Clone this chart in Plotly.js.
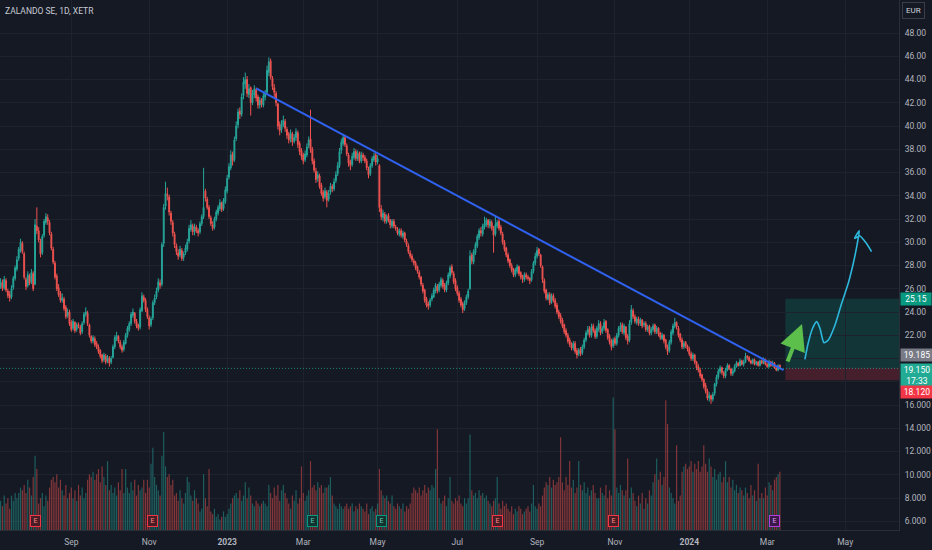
<!DOCTYPE html>
<html><head><meta charset="utf-8">
<script src="https://cdn.plot.ly/plotly-3.0.1.min.js"></script>
<style>html,body{margin:0;padding:0;background:#151924;}#chart{width:932px;height:550px;}</style>
</head><body><div id="chart"></div>
<script>
const lastDate = '2024-03-12';
const holidays = ['2022-12-26','2023-04-07','2023-04-10','2023-05-01','2023-12-25','2023-12-26','2024-01-01'];

const open = [
26.2,26.5,26.1,26.7,25.8,25.5,25.3,26.1,26.9,27.7,
28.6,29.3,29.9,29.0,26.8,26.3,27.1,26.6,27.3,26.4,
31.4,31.0,30.1,29.1,30.6,31.7,32.1,31.7,30.7,29.4,
28.2,27.1,26.1,25.6,25.0,25.1,24.4,23.7,24.0,23.1,
22.6,23.1,22.5,22.9,22.7,22.3,23.1,23.8,23.9,22.9,
21.9,21.5,21.7,21.3,21.0,20.7,20.3,19.9,20.2,19.8,
20.0,19.7,20.1,21.0,21.7,21.9,21.4,21.0,20.8,21.3,
22.0,22.5,23.0,23.7,23.9,23.2,22.9,22.7,24.1,25.3,
25.0,24.2,23.5,22.9,23.5,24.8,25.3,25.9,26.5,26.4,
29.9,33.1,34.1,33.9,32.5,31.7,30.7,29.7,29.1,28.9,
29.3,28.7,29.1,29.4,30.1,31.1,31.4,30.9,31.3,31.0,
30.9,31.6,32.2,34.4,33.7,33.0,32.1,31.5,31.3,32.0,
32.5,32.9,33.4,32.9,33.5,34.4,35.6,36.4,37.6,37.1,
38.9,40.1,41.3,41.0,42.6,43.6,44.0,42.7,43.3,42.0,
42.7,43.1,42.5,41.8,42.3,41.8,42.5,42.9,44.6,45.6,
44.1,43.3,42.8,41.9,40.1,39.7,40.1,40.4,39.7,39.3,
38.9,39.3,38.7,39.0,39.4,38.5,37.9,37.5,37.1,37.5,
38.3,38.9,38.0,37.0,36.1,35.5,35.7,34.9,34.3,33.9,
34.3,33.7,34.3,34.8,34.6,35.3,35.9,36.6,37.9,38.5,
39.0,38.3,37.5,36.9,36.7,37.3,37.8,37.2,37.7,37.0,
37.5,37.3,37.0,36.3,35.9,36.6,37.1,37.5,36.9,36.6,
32.9,32.1,32.4,31.8,32.3,31.9,31.4,31.8,31.3,31.1,
30.7,31.0,30.5,30.8,30.1,29.7,29.1,28.8,28.4,28.2,
27.9,27.4,27.0,26.3,25.9,25.1,24.7,24.6,25.1,25.3,
25.8,26.2,25.9,26.3,26.7,26.3,25.9,26.5,27.1,27.9,
27.3,26.7,26.1,25.6,25.1,24.7,24.3,24.8,25.3,26.0,
28.9,28.3,29.1,29.7,30.4,31.0,30.7,31.3,31.5,31.9,
31.4,31.7,31.2,30.7,31.4,31.8,31.3,30.7,30.0,29.5,
28.9,28.5,28.0,27.7,27.2,27.5,27.9,27.4,27.1,26.8,
27.2,27.0,26.9,26.8,27.5,28.2,28.8,29.4,28.9,27.9,
26.7,25.9,25.1,25.5,24.9,25.4,25.0,24.6,24.0,23.7,
23.3,22.9,22.4,22.0,21.6,21.2,20.9,21.3,20.7,20.4,
20.8,20.5,21.0,21.6,22.2,22.6,22.0,22.8,22.4,21.9,
22.5,23.0,22.3,22.6,23.2,22.5,21.9,21.5,21.1,21.7,
21.3,22.0,22.5,22.9,22.2,22.7,21.9,21.6,23.1,24.1,
23.6,23.1,23.4,23.0,23.3,22.9,23.0,22.5,22.8,22.2,
22.5,22.9,22.3,22.6,22.2,21.7,22.0,21.6,21.0,20.7,
21.4,22.2,22.8,23.1,22.6,22.1,21.6,21.0,21.4,21.1,
20.8,20.4,20.0,20.3,19.7,19.3,19.0,18.6,18.2,17.7,
17.2,16.6,16.8,16.5,17.0,17.8,18.4,18.9,19.2,18.8,
18.5,19.0,19.4,19.1,18.7,18.9,19.3,19.6,19.4,19.8,
19.5,19.7,20.2,20.1,19.8,19.6,19.9,19.5,19.7,19.4,
19.8,19.6,19.9,19.5,19.3,19.7,19.4,19.6,19.2,19.0,
19.4];

const high = [
26.9,26.8,27.1,26.9,26.0,25.8,26.3,27.1,28.0,28.8,
29.6,30.3,30.1,29.2,27.0,27.5,27.3,27.7,27.5,32.0,
33.0,31.3,30.3,30.7,32.0,32.5,32.4,31.9,30.9,29.6,
28.4,27.3,26.4,25.8,25.6,25.3,24.6,24.3,24.2,23.3,
23.4,23.2,23.1,23.1,22.9,23.2,24.0,24.4,24.1,23.0,
22.0,22.0,21.9,21.5,21.2,20.8,20.4,20.5,20.4,20.3,
20.2,20.2,21.2,22.0,22.3,22.0,21.6,21.2,21.6,22.2,
22.8,23.2,24.0,24.3,24.0,23.4,23.0,24.4,25.7,25.5,
25.2,24.4,23.7,23.6,25.0,25.5,26.1,26.9,26.8,30.0,
33.3,35.2,34.7,34.1,32.7,31.9,30.9,29.9,29.4,29.7,
29.5,29.2,29.8,30.3,31.5,31.9,31.6,31.6,31.5,31.2,
31.8,32.4,36.4,34.6,33.9,33.2,32.3,31.8,32.2,32.8,
33.2,33.7,33.5,33.8,34.8,35.8,36.8,37.9,37.8,39.1,
40.4,41.5,41.6,42.8,44.2,44.6,44.3,43.6,43.4,43.1,
43.5,43.3,42.7,42.5,42.4,42.9,43.1,45.2,45.9,45.8,
44.3,43.6,43.0,42.0,40.4,40.5,40.9,40.6,39.9,39.5,
39.7,39.5,39.3,39.8,39.6,38.7,38.1,37.7,37.9,38.5,
39.1,41.4,38.2,37.2,36.4,36.1,35.9,35.1,34.5,34.7,
34.5,34.5,35.1,35.0,35.5,36.1,36.9,38.1,38.9,39.3,
39.2,38.5,37.7,37.1,37.7,38.1,38.0,37.9,37.8,37.8,
37.7,37.5,37.2,36.5,36.8,37.4,37.7,37.7,37.5,36.7,
33.2,32.8,32.6,32.4,32.5,32.0,32.0,32.0,31.5,31.3,
31.2,31.2,31.0,30.9,30.3,29.9,29.3,29.0,28.6,28.4,
28.0,27.6,27.1,26.5,26.0,25.3,24.9,25.2,25.6,26.1,
26.5,26.4,26.6,27.0,26.9,26.5,26.7,27.4,28.0,28.1,
27.5,26.9,26.3,25.8,25.3,24.9,25.0,25.5,26.0,29.3,
29.1,29.4,30.0,30.7,31.2,31.3,31.6,32.2,32.1,32.0,
32.0,31.9,31.4,32.2,31.9,32.0,31.5,30.9,30.2,29.6,
29.1,28.6,28.2,27.8,27.8,28.1,28.0,27.5,27.2,27.4,
27.4,27.2,27.0,27.7,28.4,29.1,29.6,29.5,29.0,28.0,
26.9,26.0,25.7,25.7,25.6,25.6,25.2,24.8,24.2,23.9,
23.5,23.0,22.6,22.2,21.8,21.4,21.5,21.5,20.9,20.9,
21.0,21.2,21.8,22.4,22.8,22.8,23.0,23.0,22.6,22.8,
23.3,23.2,22.8,23.4,23.3,22.6,22.1,21.7,21.8,21.9,
22.2,22.8,23.1,23.1,23.0,22.8,22.1,23.3,24.6,24.3,
23.8,23.6,23.6,23.5,23.4,23.2,23.2,22.9,22.9,22.7,
23.0,23.0,22.8,22.7,22.3,22.2,22.1,21.7,21.2,21.6,
22.5,23.0,23.5,23.2,22.8,22.2,21.8,21.5,21.5,21.2,
21.0,20.6,20.5,20.4,19.8,19.5,19.2,18.7,18.3,17.9,
17.4,17.1,16.9,17.1,17.9,18.6,19.1,19.4,19.3,18.9,
19.2,19.6,19.5,19.2,19.1,19.5,19.8,19.7,20.0,19.9,
19.9,20.5,20.3,20.2,19.9,20.0,20.0,19.8,19.8,19.9,
19.9,20.1,20.0,19.6,19.9,19.8,19.8,19.7,19.3,19.5,
19.5];

const low = [
26.0,25.8,25.9,25.7,25.2,24.9,25.1,25.9,26.7,27.5,
28.4,29.1,29.0,26.8,25.9,26.1,26.3,26.4,25.8,26.3,
30.7,30.0,28.7,28.9,30.4,31.5,31.5,30.6,29.3,28.1,
26.8,25.8,25.3,24.8,24.8,24.1,23.4,23.5,22.8,22.3,
22.4,22.2,22.3,22.6,22.0,22.1,22.9,23.6,22.8,21.8,
21.3,21.3,21.0,20.8,20.4,20.0,19.6,19.7,19.5,19.6,
19.3,19.5,20.0,20.8,21.5,21.3,20.8,20.5,20.6,21.2,
21.8,22.3,22.8,23.5,23.0,22.6,22.4,22.5,24.0,24.8,
24.0,23.4,22.5,22.7,23.3,24.6,25.1,25.7,26.0,26.2,
29.6,32.8,33.6,32.3,31.5,30.5,29.5,28.9,28.5,28.7,
28.4,28.4,28.9,29.2,29.9,30.9,30.6,30.6,30.8,30.5,
30.7,31.4,32.0,33.5,32.8,32.0,31.4,31.0,31.1,31.8,
32.3,32.7,32.6,32.7,33.3,34.2,35.4,36.2,36.6,36.9,
38.7,39.8,40.6,40.8,42.3,43.2,42.5,42.4,40.9,41.8,
42.4,42.1,41.5,41.5,41.6,41.6,42.2,42.7,44.3,44.0,
43.1,42.5,41.7,39.7,39.2,39.4,39.9,39.5,38.9,38.5,
38.6,38.3,38.5,38.7,38.1,37.5,37.1,36.7,36.9,37.3,
38.1,37.7,36.7,36.0,35.1,35.2,34.6,34.0,33.5,33.7,
33.0,33.5,34.1,34.3,34.4,35.1,35.7,36.4,37.6,38.3,
38.2,37.4,36.5,36.2,36.5,37.1,37.0,37.0,36.8,36.8,
37.0,36.8,36.2,35.5,35.7,36.4,36.9,36.6,36.7,32.6,
31.9,31.8,31.6,31.6,31.7,31.2,31.2,31.2,31.0,30.6,
30.5,30.4,30.3,30.0,29.6,29.0,28.6,28.3,28.0,27.6,
27.3,26.8,26.2,25.6,24.8,24.4,24.2,24.4,24.9,25.2,
25.6,25.6,25.7,26.1,26.0,25.7,25.7,26.3,26.9,27.2,
26.4,25.8,25.4,24.8,24.4,23.9,24.1,24.6,25.1,25.9,
28.1,28.1,28.9,29.5,30.2,30.5,30.5,31.1,31.3,31.2,
31.2,31.0,29.1,30.5,31.2,31.0,30.6,29.8,29.2,28.7,
28.2,27.8,27.4,27.0,27.0,27.3,27.1,26.8,26.5,26.6,
26.8,26.7,26.4,26.6,27.3,28.0,28.6,28.8,27.8,26.5,
25.6,25.0,25.0,24.6,24.7,24.8,24.3,23.8,23.4,23.0,
22.6,22.1,21.8,21.3,21.0,20.7,20.7,20.4,20.0,20.2,
20.2,20.3,20.8,21.4,22.0,21.8,21.8,22.2,21.7,21.7,
22.3,22.0,22.1,22.4,22.2,21.6,21.2,20.7,20.9,21.1,
21.1,21.8,22.3,22.1,22.0,21.6,21.2,21.4,22.9,23.4,
23.0,22.9,22.8,22.8,22.6,22.7,22.3,22.3,22.0,22.0,
22.3,22.1,22.1,21.9,21.6,21.6,21.3,20.8,20.3,20.5,
21.2,22.0,22.6,22.5,21.8,21.4,20.8,20.8,20.9,20.6,
20.2,19.8,19.8,19.5,19.0,18.8,18.3,18.0,17.4,17.0,
16.4,16.3,16.1,16.3,16.8,17.6,18.2,18.7,18.6,18.3,
18.3,18.9,19.0,18.5,18.5,18.8,19.2,19.3,19.3,19.4,
19.3,19.6,19.9,19.7,19.5,19.5,19.4,19.4,19.3,19.3,
19.5,19.5,19.4,19.2,19.2,19.3,19.3,19.1,18.9,18.9,
19.05];

const close = [
26.6,26.0,26.8,25.9,25.4,25.2,26.0,26.9,27.8,28.5,
29.4,30.0,29.2,27.0,26.2,27.2,26.5,27.4,26.0,31.5,
31.0,30.2,29.0,30.5,31.8,32.2,31.8,30.8,29.5,28.3,
27.0,26.0,25.5,25.0,25.2,24.3,23.6,24.0,23.0,22.5,
23.2,22.4,22.9,22.8,22.2,23.0,23.8,24.0,23.0,22.0,
21.5,21.8,21.2,21.0,20.6,20.2,19.8,20.3,19.7,20.1,
19.6,20.0,21.0,21.8,22.0,21.5,21.0,20.7,21.4,22.0,
22.6,23.0,23.8,24.0,23.2,22.8,22.6,24.2,25.4,25.0,
24.2,23.6,22.8,23.4,24.8,25.2,25.8,26.6,26.3,29.8,
33.0,34.2,34.0,32.6,31.8,30.8,29.8,29.2,28.8,29.4,
28.6,29.0,29.5,30.0,31.2,31.5,30.9,31.3,31.0,30.8,
31.6,32.2,33.0,33.8,33.0,32.2,31.6,31.2,32.0,32.6,
33.0,33.4,32.8,33.6,34.5,35.5,36.5,37.5,37.0,38.8,
40.0,41.2,41.0,42.5,43.8,44.0,42.8,43.2,42.0,42.8,
43.2,42.4,41.8,42.2,41.9,42.6,42.8,44.8,45.5,44.2,
43.4,42.9,42.0,40.0,39.6,40.2,40.5,39.8,39.2,38.8,
39.4,38.6,39.0,39.5,38.4,37.8,37.4,37.0,37.6,38.2,
38.8,38.0,37.0,36.2,35.4,35.8,34.8,34.2,33.8,34.4,
33.6,34.2,34.8,34.6,35.2,35.8,36.6,37.8,38.6,39.0,
38.4,37.6,36.8,36.6,37.4,37.8,37.2,37.6,37.0,37.5,
37.3,37.0,36.4,35.8,36.6,37.2,37.4,36.9,37.2,33.0,
32.2,32.5,31.8,32.2,31.9,31.5,31.8,31.4,31.2,30.8,
31.0,30.6,30.8,30.2,29.8,29.2,28.8,28.5,28.2,27.8,
27.5,27.0,26.4,25.8,25.0,24.6,24.5,25.0,25.4,25.9,
26.3,25.8,26.4,26.8,26.2,25.9,26.5,27.2,27.8,27.4,
26.6,26.0,25.6,25.0,24.6,24.2,24.8,25.3,25.8,28.8,
28.4,29.2,29.8,30.5,31.0,30.8,31.4,31.6,31.9,31.5,
31.8,31.2,30.6,31.5,31.7,31.2,30.8,30.0,29.4,28.9,
28.4,28.0,27.6,27.2,27.6,27.9,27.3,27.0,26.8,27.2,
27.0,26.9,26.7,27.5,28.2,28.8,29.3,29.0,28.0,26.8,
25.8,25.2,25.5,24.8,25.4,25.0,24.5,24.0,23.6,23.2,
22.8,22.3,22.0,21.5,21.2,20.9,21.3,20.6,20.3,20.7,
20.4,21.0,21.6,22.2,22.5,22.0,22.7,22.4,21.9,22.6,
23.0,22.2,22.6,23.1,22.4,21.8,21.4,21.0,21.6,21.3,
22.0,22.6,22.8,22.3,22.8,21.8,21.5,23.0,24.2,23.6,
23.2,23.4,23.0,23.3,22.8,23.0,22.5,22.7,22.2,22.5,
22.8,22.3,22.6,22.1,21.8,22.0,21.5,21.0,20.6,21.4,
22.3,22.8,23.1,22.7,22.0,21.6,21.0,21.3,21.1,20.8,
20.4,20.0,20.3,19.7,19.2,19.0,18.5,18.2,17.6,17.2,
16.6,16.8,16.5,16.9,17.8,18.4,18.9,19.2,18.8,18.5,
19.0,19.4,19.1,18.7,18.9,19.3,19.6,19.4,19.8,19.5,
19.7,20.2,20.1,19.8,19.6,19.9,19.5,19.7,19.4,19.8,
19.6,19.9,19.5,19.3,19.7,19.4,19.6,19.2,19.0,19.4,
19.15];

// volume, millions of shares
const volume = [
1.1,0.9,1.3,1.0,1.2,0.8,1.3,1.1,1.4,1.2,
1.4,1.6,1.5,1.7,1.4,1.9,1.6,1.3,2.0,2.8,
2.3,1.0,1.2,1.4,0.9,1.3,1.1,1.6,1.9,2.0,
1.8,2.1,1.6,1.9,1.5,1.3,1.7,1.2,1.4,1.6,
1.2,1.5,1.1,1.7,1.3,1.6,1.2,1.4,1.9,2.1,
2.0,2.2,1.9,2.1,2.3,1.8,2.4,2.0,1.7,2.6,
1.5,1.7,1.4,1.6,1.3,1.8,1.5,2.3,1.4,2.3,
1.6,1.4,1.8,1.5,1.9,1.3,1.7,1.5,1.6,1.9,
1.4,1.9,1.6,2.5,3.1,2.0,1.7,1.5,1.3,2.8,
3.7,2.4,2.0,2.1,1.7,1.9,1.3,1.4,1.1,1.5,
1.2,1.0,1.4,2.0,1.8,1.3,1.1,1.5,1.2,1.0,
0.7,0.8,2.1,1.2,0.9,2.3,0.7,0.6,0.8,0.5,
0.6,0.4,0.5,0.7,0.5,0.6,0.8,1.0,1.2,1.3,
1.4,1.2,1.5,1.1,1.3,1.8,1.2,1.6,1.3,1.0,
0.9,1.1,1.0,0.9,1.0,1.1,1.0,0.9,1.7,1.4,
1.2,1.6,1.3,1.7,1.1,1.5,1.7,1.4,1.2,1.0,
0.8,1.3,1.1,1.5,1.0,1.2,2.4,1.4,1.1,1.3,
1.5,2.6,1.6,1.7,1.5,1.8,1.6,1.7,1.4,1.6,
1.6,1.7,2.0,1.3,1.0,0.9,0.8,1.0,0.9,0.8,
0.9,1.0,0.8,0.9,1.0,0.7,0.9,0.8,1.0,0.9,
0.8,0.7,1.0,0.6,0.8,0.9,0.7,0.8,1.0,2.3,
1.5,1.3,1.2,1.3,1.1,1.0,1.3,0.9,0.8,1.0,
0.9,0.8,1.0,0.7,0.9,0.8,1.0,1.4,1.6,1.5,
1.4,1.6,1.3,1.5,1.7,1.4,1.6,1.5,1.7,1.6,
2.3,3.8,1.2,1.0,1.1,1.3,0.9,1.2,2.0,1.1,
1.0,1.2,1.1,1.3,1.0,0.9,1.2,1.0,1.2,3.6,
1.5,1.3,1.4,1.2,1.5,1.3,1.4,1.2,1.3,1.1,
1.0,0.9,1.1,1.2,2.0,1.0,0.8,1.1,0.9,1.0,
0.8,0.7,0.9,0.6,0.8,0.7,0.9,0.8,0.6,0.7,
0.8,0.9,0.7,1.0,1.7,0.9,0.8,1.0,0.9,1.3,
1.6,1.8,1.7,2.0,1.6,1.9,1.7,1.8,2.0,3.5,
1.8,1.5,2.0,1.7,2.6,1.6,1.9,1.4,1.6,2.6,
1.7,1.5,1.8,1.4,1.6,1.3,1.5,1.7,1.4,1.2,
1.2,1.6,1.4,1.3,1.7,1.2,1.5,1.3,5.0,3.8,
1.6,1.4,1.7,1.5,1.3,1.5,2.7,1.2,1.6,1.4,
1.1,0.9,1.3,1.0,1.4,0.8,1.2,1.0,1.5,1.3,
1.8,2.1,2.7,1.9,2.2,1.7,2.0,4.9,4.0,1.6,
1.4,1.2,1.0,3.2,1.1,1.3,2.2,2.4,2.5,2.3,
2.4,2.6,2.2,2.5,2.3,2.6,2.2,2.4,3.2,2.5,
2.2,2.7,2.4,2.0,2.3,1.9,2.1,2.2,1.8,2.0,
2.6,1.8,2.0,1.6,1.9,1.5,1.7,1.4,1.6,1.5,
1.3,1.6,1.4,1.2,1.7,1.3,1.5,1.1,2.5,1.2,
1.4,1.2,1.6,1.3,1.8,1.7,1.5,1.9,2.0,2.1,
2.2];

const xTickVals = ['2022-09-01','2022-11-01','2023-01-02','2023-03-01','2023-05-02','2023-07-03','2023-09-01','2023-11-01','2024-01-02','2024-03-01','2024-05-01'];
const xTickText = ['Sep','Nov','<b>2023</b>','Mar','May','Jul','Sep','Nov','<b>2024</b>','Mar','May'];
const yTickVals = [6,8,10,12,14,16,18,20,22,24,26,28,30,32,34,36,38,40,42,44,46,48];
const yTicksHidden = [18,20]; // covered by the price labels in the reference

const trendDates = ['2023-01-24','2024-03-14'];
const trendPrices = [43.24, 19.0];

const sketchDates = ['2024-03-29 19:00','2024-04-02 14:00','2024-04-05 01:00','2024-04-09 07:00','2024-04-11 02:00','2024-04-15 07:00','2024-04-17 17:00','2024-04-23 10:00','2024-04-29 02:00','2024-05-02 17:00','2024-05-07 12:00','2024-05-09 17:00','2024-05-10 19:00','2024-05-08 05:00','2024-05-13 02:00','2024-05-16 12:00','2024-05-21 14:00'];
const sketchPrices = [19.93,21.31,22.60,23.17,22.60,21.36,21.59,22.88,24.75,26.47,28.19,29.91,30.99,30.34,30.54,29.96,29.19];

const earnDates = ['2022-08-04','2022-11-03','2023-03-08','2023-05-04','2023-08-02','2023-10-31','2024-03-07'];
const earnKind = ['miss','miss','beat','beat','miss','miss','next'];

const position = {start:'2024-03-15', entry:19.185, target:25.15, stop:18.12};
const lastPrice = 19.15;
const arrowFrom = {date:'2024-03-15 22:00', price:19.61};
const arrowTo = {date:'2024-03-28 05:00', price:22.97};

// trading-day dates, counted backwards from last session
const dates = new Array(close.length);
(function(){
  let d = new Date(lastDate + 'T00:00:00Z');
  let i = close.length - 1;
  while (i >= 0) {
    const s = d.toISOString().slice(0,10);
    const wd = d.getUTCDay();
    if (wd !== 0 && wd !== 6 && holidays.indexOf(s) < 0) { dates[i] = s; i--; }
    d.setUTCDate(d.getUTCDate() - 1);
  }
})();

const UP = '#26a69a', DOWN = '#ef5350';
const volColors = close.map((c,i) => c >= open[i] ? 'rgba(38,166,154,0.5)' : 'rgba(239,83,80,0.5)');

const traces = [
  {type:'bar', x:dates, y:volume, yaxis:'y', marker:{color:volColors, line:{width:0}}, hoverinfo:'skip'},
  {type:'candlestick', x:dates, open:open, high:high, low:low, close:close, yaxis:'y2',
   increasing:{line:{color:UP, width:1}, fillcolor:UP},
   decreasing:{line:{color:DOWN, width:1}, fillcolor:DOWN},
   whiskerwidth:0, hoverinfo:'skip'},
  {type:'scatter', mode:'lines', x:trendDates, y:trendPrices, yaxis:'y2', line:{color:'#2f62f0', width:2}, hoverinfo:'skip'},
  {type:'scatter', mode:'lines', x:sketchDates, y:sketchPrices, yaxis:'y2', line:{color:'#2db7dc', width:1.6, shape:'spline', smoothing:0.6}, hoverinfo:'skip'}
];

const FONT = 'Roboto, "Liberation Sans", sans-serif';
const annotations = [
  {xref:'paper', yref:'paper', x:0, y:1, xanchor:'left', yanchor:'top', xshift:3, yshift:-4, showarrow:false,
   text:'ZALANDO SE, 1D, XETR', font:{family:FONT, size:8.5, color:'#c8cbd3'}},
  {xref:'paper', yref:'paper', x:1, y:1, xanchor:'left', yanchor:'top', xshift:3, yshift:-2, showarrow:false,
   text:'EUR', font:{family:FONT, size:8, color:'#d1d4dc'}, bordercolor:'#3a3e4a', borderwidth:1, borderpad:3},
  {xref:'paper', yref:'y2', x:1, y:position.target, xanchor:'left', xshift:1, showarrow:false, width:28,
   text:position.target.toFixed(2), bgcolor:'#089981', font:{family:FONT, size:8.5, color:'#ffffff'}, borderpad:1},
  {xref:'paper', yref:'y2', x:1, y:position.entry, xanchor:'left', yanchor:'bottom', yshift:6, xshift:1, showarrow:false, width:30,
   text:position.entry.toFixed(3), bgcolor:'#787b86', font:{family:FONT, size:8.5, color:'#ffffff'}, borderpad:1},
  {xref:'paper', yref:'y2', x:1, y:lastPrice, xanchor:'left', yanchor:'top', yshift:5, xshift:1, showarrow:false, width:30,
   text:lastPrice.toFixed(3) + '<br>17:33', bgcolor:'#22ab94', font:{family:FONT, size:8.5, color:'#ffffff'}, borderpad:1},
  {xref:'paper', yref:'y2', x:1, y:position.stop, xanchor:'left', yanchor:'top', yshift:-5, xshift:1, showarrow:false, width:30,
   text:position.stop.toFixed(3), bgcolor:'#f23645', font:{family:FONT, size:8.5, color:'#ffffff'}, borderpad:1},
  {xref:'x', yref:'y2', x:arrowTo.date, y:arrowTo.price, axref:'x', ayref:'y2', ax:arrowFrom.date, ay:arrowFrom.price,
   showarrow:true, arrowhead:2, arrowsize:1.3, arrowwidth:4, arrowcolor:'#5cbf4c', text:''}
];
const earnStyle = {
  miss:{border:'#f23645', bg:'#4a1c25', text:'#ff8a8a'},
  beat:{border:'#089981', bg:'#12332f', text:'#5fd1bb'},
  next:{border:'#b33ee0', bg:'#3a1848', text:'#e39cff'}
};
earnDates.forEach((d,i) => {
  const s = earnStyle[earnKind[i]];
  annotations.push({xref:'x', yref:'paper', x:d, y:0, yanchor:'bottom', yshift:3, showarrow:false,
    text:'E', font:{family:FONT, size:7, color:s.text}, bgcolor:s.bg, bordercolor:s.border, borderwidth:1, borderpad:1, width:7});
});

const shapes = [
  {type:'rect', xref:'x', yref:'y2', x0:position.start, x1:'2024-06-11 17:00', y0:position.entry, y1:position.target,
   fillcolor:'rgba(8,153,129,0.22)', line:{width:0}, layer:'below'},
  {type:'rect', xref:'x', yref:'y2', x0:position.start, x1:'2024-06-11 17:00', y0:position.stop, y1:position.entry,
   fillcolor:'rgba(242,54,69,0.22)', line:{width:0}, layer:'below'},
  {type:'line', xref:'paper', yref:'y2', x0:0, x1:1, y0:lastPrice, y1:lastPrice, line:{color:'rgba(34,171,148,0.75)', width:1, dash:'1px,2px'}}
];

const layout = {
  width:932, height:550,
  margin:{l:0, r:33, t:0, b:20},
  paper_bgcolor:'#151924', plot_bgcolor:'#151924',
  showlegend:false, hovermode:false, dragmode:false, bargap:0.35,
  font:{family:FONT, color:'#b2b5be', size:8.5},
  xaxis:{type:'date', range:['2022-07-07 16:00','2024-06-11 17:00'],
    rangebreaks:[{bounds:['sat','mon']},{values:holidays}],
    rangeslider:{visible:false}, tickmode:'array', tickvals:xTickVals, ticktext:xTickText,
    showgrid:true, gridcolor:'#1e222d', gridwidth:1, zeroline:false,
    showline:true, linecolor:'#2a2e39', ticks:'', ticklabelstandoff:4,
    tickfont:{family:FONT, size:8.5, color:'#b2b5be'}},
  yaxis:{range:[0,20], visible:false, fixedrange:true},
  yaxis2:{overlaying:'y', side:'right', range:[5.247,50.839], tickmode:'array', tickvals:yTickVals,
    ticktext:yTickVals.map(v => yTicksHidden.indexOf(v) >= 0 ? '' : (v < 20 ? v.toFixed(3) : v.toFixed(2))),
    showgrid:true, gridcolor:'#1e222d', gridwidth:1, zeroline:false,
    showline:true, linecolor:'#2a2e39', ticks:'', ticklabelstandoff:3,
    tickfont:{family:FONT, size:8.5, color:'#b2b5be'}},
  annotations:annotations, shapes:shapes
};

Plotly.newPlot('chart', traces, layout, {staticPlot:true, displayModeBar:false});
</script>
</body></html>
